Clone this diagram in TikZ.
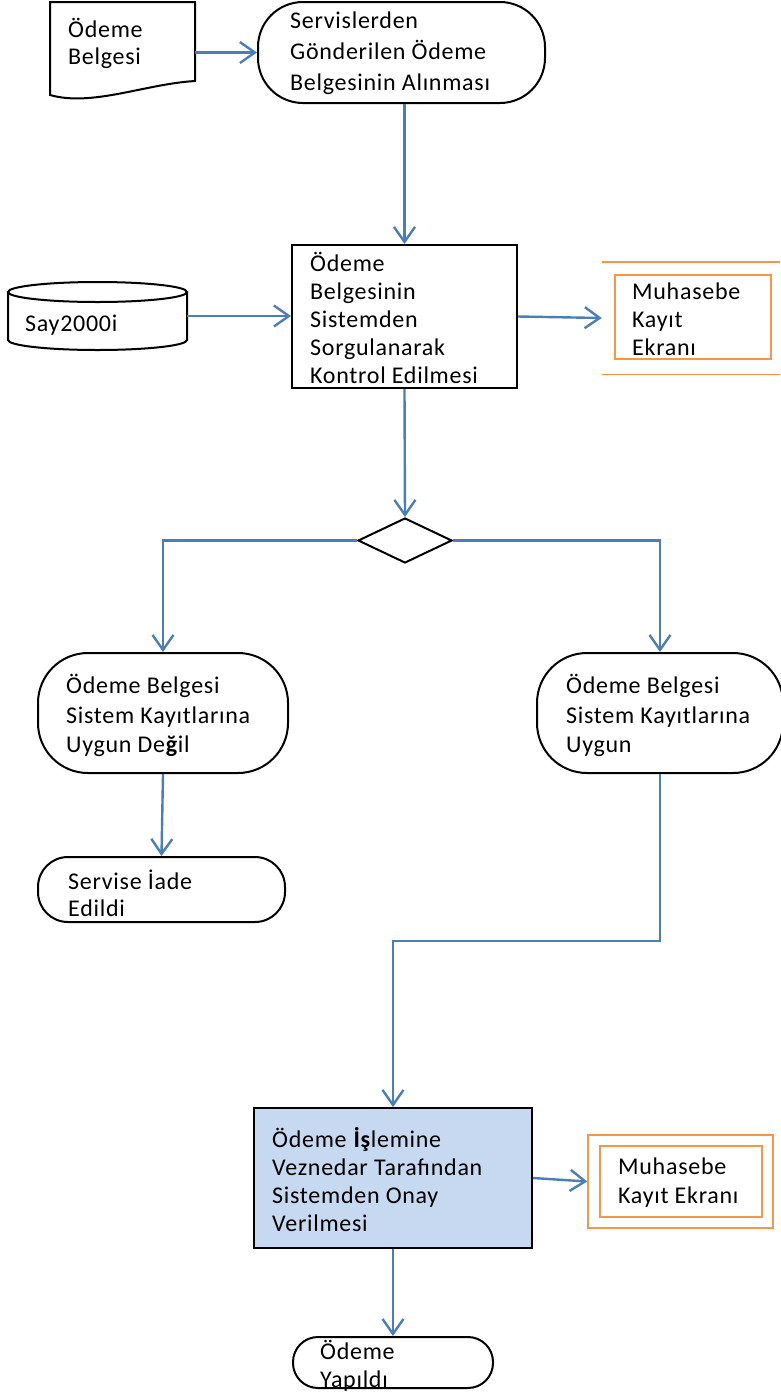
\documentclass[tikz,border=0pt]{standalone}
\usepackage{fontspec}
\setmainfont[LetterSpace=3]{Carlito}
\usetikzlibrary{arrows.meta,shapes.geometric}
\definecolor{arrowblue}{HTML}{4A7EBB}
\definecolor{boxblue}{HTML}{C6D9F1}
\definecolor{boxorange}{HTML}{F79646}
\begin{document}
\begin{tikzpicture}[x=1pt,y=-1pt,
  txt/.style={font=\fontsize{24}{#1}\selectfont, align=left, anchor=west, inner sep=0pt},
  txt/.default=28,
  shp/.style={draw=black, line width=2pt, inner sep=0pt, fill=white},
  ghost/.style={draw=none, inner sep=0pt},
  term/.style={shp, rounded corners=#1},
  obox/.style={draw=boxorange, line width=1.4pt, inner sep=0pt},
  arr/.style={draw=arrowblue, line width=2.4pt, -{Straight Barb[length=15pt,width=21pt,line width=2.4pt]}}
]
\useasboundingbox (0,0) rectangle (780,1393);

% shapes
\node[ghost, minimum width=145pt, minimum height=95pt] (doc) at (122.5,49.5) {};
\draw[shp] (50,2) -- (50,95) .. controls (92,107) and (145,84) .. (195,81) -- (195,2) -- cycle;

\node[term=45pt, minimum width=287pt, minimum height=101pt] (t1) at (401.5,52.5) {};
\node[shp, minimum width=225pt, minimum height=143pt] (proc) at (404.5,316.5) {};

\node[ghost, minimum width=179pt, minimum height=68pt] (cyl) at (97.5,316) {};
\draw[shp] (8,292) -- (8,340) arc[start angle=180,end angle=360,x radius=89.5pt,y radius=10pt] -- (187,292);
\draw[shp] (97.5,292) ellipse [x radius=89.5pt, y radius=10pt];

\node[ghost, minimum width=178pt, minimum height=112pt] (mk1) at (691,318) {};
\draw[obox] (mk1.north west) -- (mk1.north east);
\draw[obox] (mk1.south west) -- (mk1.south east);
\node[obox, minimum width=156pt, minimum height=84pt] (mk1in) at (693,317) {};

\node[shp, diamond, minimum width=94pt, minimum height=45pt] (dia) at (405,540.5) {};

\node[term=50pt, minimum width=250pt, minimum height=120pt] (t2l) at (163,713) {};
\node[term=50pt, minimum width=246pt, minimum height=120pt] (t2r) at (660,713) {};
\node[term=30pt, minimum width=247pt, minimum height=65pt] (serv) at (161.5,889.5) {};

\node[shp, fill=boxblue, minimum width=278pt, minimum height=140pt] (blue) at (393,1178) {};

\node[obox, minimum width=185pt, minimum height=93pt] (mk2) at (680.5,1181.5) {};
\node[obox, minimum width=162pt, minimum height=71pt] (mk2in) at (681,1181.5) {};

\node[term=25pt, minimum width=200pt, minimum height=51pt] (fin) at (393,1362.5) {};

% texts
\node[txt=27] (tdoc) at (68,43.5) {Ödeme\\Belgesi};
\node[txt=31] (tt1) at (290,53) {Servislerden\\Gönderilen Ödeme\\Belgesinin Alınması};
\node[txt] (tproc) at (310,318) {Ödeme\\Belgesinin\\Sistemden\\Sorgulanarak\\Kontrol Edilmesi};
\node[txt] (tcyl) at (25,325) {Say2000i};
\node[txt] (tmk1) at (632,319.5) {Muhasebe\\Kayıt\\Ekranı};
\node[txt=29.5] (tt2l) at (66,715.5) {Ödeme Belgesi\\Sistem Kayıtlarına\\Uygun De\textbf{ğ}il};
\node[txt=29.5] (tt2r) at (566,715.5) {Ödeme Belgesi\\Sistem Kayıtlarına\\Uygun};
\node[txt=27] (tserv) at (68,893.5) {Servise İade\\Edildi};
\node[txt=28.3] (tblue) at (272,1179.5) {Ödeme \textbf{İş}lemine\\Veznedar Tarafından\\Sistemden Onay\\Verilmesi};
\node[txt=29] (tmk2) at (618,1182.5) {Muhasebe\\Kayıt Ekranı};
\node[txt] (tfin) at (320,1366) {Ödeme\\Yapıldı};

% connectors
\draw[arr] (doc.east |- t1.west) -- (t1.west);
\draw[arr] (t1.south -| proc.north) -- (proc.north);
\draw[arr] (cyl.east) -- (cyl.east -| proc.west);
\draw[arr] (proc.east) -- (mk1.west);
\draw[arr] (proc.south) -- (dia.north);
\draw[arr] (dia.west) -| (t2l.north);
\draw[arr] (dia.east) -| (t2r.north);
\draw[arr] (t2l.south) -- (serv.north);
\draw[arr] (t2r.south) -- ++(0,167) -| (blue.north);
\draw[arr] (blue.east) -- (mk2.west);
\draw[arr] (blue.south) -- (fin.north);
\end{tikzpicture}
\end{document}
